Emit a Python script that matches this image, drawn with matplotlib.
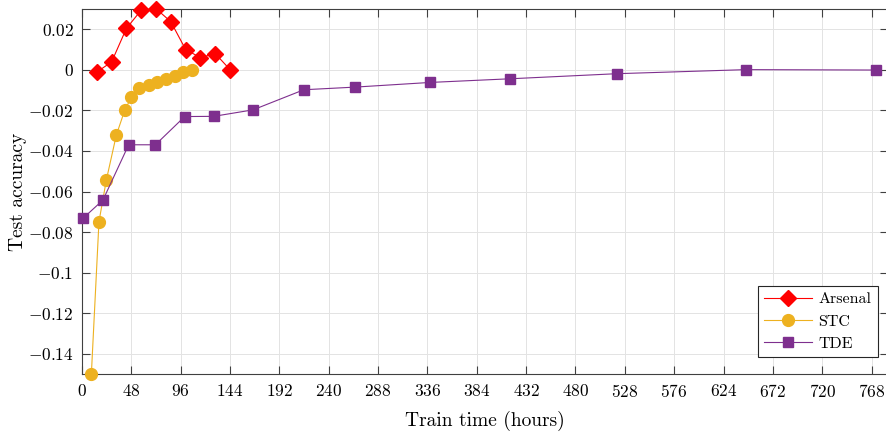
import matplotlib
matplotlib.use('Agg')
from matplotlib import pyplot as plt

# values
arsenal_x = [14.4, 28.8, 43.2, 57.6, 72.0, 86.4, 100.8, 115.2, 129.6, 144.0]
arsenal_y = [-0.0012, 0.0038, 0.0203, 0.0293, 0.0300, 0.0236, 0.0099, 0.0059, 0.0079, 0.0]

stc_x = [9.1, 16.5, 23.7, 33.4, 41.5, 48.0, 55.4, 64.8, 73.3, 82.1, 90.4, 98.5, 106.7]
stc_y = [-0.150, -0.0749, -0.0543, -0.0322, -0.0201, -0.0136, -0.0091, -0.0078,
         -0.0061, -0.0048, -0.0033, -0.0012, 0.0]

tde_x = [1.0, 20.4, 45.4, 71.4, 99.9, 128.1, 166.4, 215.8, 265.7, 338.8, 416.6,
         520.3, 645.9, 772.1]
tde_y = [-0.0732, -0.0642, -0.0370, -0.0370, -0.0231, -0.0230, -0.0198, -0.0099,
         -0.0086, -0.0063, -0.0045, -0.0020, 0.0, -0.0002]

xticks = list(range(0, 769, 48))
yticks = [0.02, 0, -0.02, -0.04, -0.06, -0.08, -0.1, -0.12, -0.14]
ylabels = ['$0.02$', '$0$', '$-0.02$', '$-0.04$', '$-0.06$', '$-0.08$',
           '$-0.1$', '$-0.12$', '$-0.14$']

plt.rcParams['mathtext.fontset'] = 'cm'
plt.rcParams['font.family'] = 'serif'
plt.rcParams['font.serif'] = ['cmr10']
plt.rcParams['axes.unicode_minus'] = False

fig = plt.figure(figsize=(8.87, 4.32), dpi=100)
ax = fig.add_axes([82 / 887, 57.7 / 432, 806 / 887, 365.6 / 432])

ax.plot(arsenal_x, arsenal_y, color=(1, 0, 0), lw=0.8, marker='D', ms=8,
        label='Arsenal', clip_on=False, zorder=3)
ax.plot(stc_x, stc_y, color='#EDB120', lw=0.8, marker='o', ms=8.5,
        label='STC', clip_on=False, zorder=3)
ax.plot(tde_x, tde_y, color='#7E2F8E', lw=0.8, marker='s', ms=6.5,
        label='TDE', clip_on=False, zorder=3)

ax.set_xlim(0, 784)
ax.set_ylim(-0.15, 0.03)
ax.set_xticks(xticks)
ax.set_xticklabels(['$%d$' % t for t in xticks])
ax.set_yticks(yticks)
ax.set_yticklabels(ylabels)
ax.tick_params(direction='in', length=6, width=0.8, color='#404040',
               labelsize=12.5, top=True, right=True, pad=6)
for s in ax.spines.values():
    s.set_color('#404040')
    s.set_linewidth(0.8)
ax.grid(True, color='#e3e3e3', lw=0.7)
ax.set_axisbelow(True)

ax.set_xlabel('Train time (hours)', fontsize=14, labelpad=8)
ax.set_ylabel('Test accuracy', fontsize=14, labelpad=1)

leg = ax.legend(loc='lower right', bbox_to_anchor=(0.987, 0.047), fontsize=11.5,
                fancybox=False, framealpha=1, edgecolor='#262626',
                handlelength=3.0, borderpad=0.4, labelspacing=0.5,
                handletextpad=0.4, borderaxespad=0)
leg.get_frame().set_linewidth(0.8)

fig.savefig('out.png', dpi=100)
